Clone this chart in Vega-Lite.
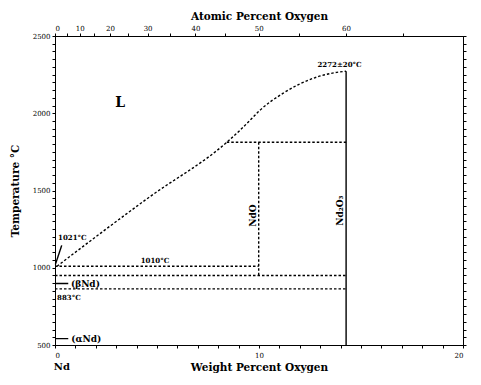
{
  "$schema": "https://vega.github.io/schema/vega-lite/v6.json",
  "width": 408,
  "height": 309,
  "autosize": {"type": "none"},
  "padding": {"left": 55, "top": 36, "right": 18, "bottom": 40},
  "background": "white",
  "config": {
    "view": {"stroke": "black", "strokeWidth": 1},
    "font": "DejaVu Serif",
    "axis": {
      "domainColor": "black", "tickColor": "black", "labelColor": "black", "titleColor": "black",
      "grid": false, "labelFont": "DejaVu Serif", "titleFont": "DejaVu Serif",
      "labelFontSize": 7, "tickSize": 3, "domainWidth": 1, "tickWidth": 1
    }
  },
  "datasets": {
    "lines": [
      {"seg": "liq", "style": "dash", "o": 1, "wt": 0.1, "T": 1010},
      {"seg": "liq", "style": "dash", "o": 2, "wt": 4.6, "T": 1455},
      {"seg": "liq", "style": "dash", "o": 3, "wt": 8.42, "T": 1812},
      {"seg": "liq", "style": "dash", "o": 4, "wt": 9.07, "T": 1890},
      {"seg": "liq", "style": "dash", "o": 5, "wt": 9.56, "T": 1955},
      {"seg": "liq", "style": "dash", "o": 6, "wt": 10.05, "T": 2020},
      {"seg": "liq", "style": "dash", "o": 7, "wt": 11.19, "T": 2130},
      {"seg": "liq", "style": "dash", "o": 8, "wt": 12.0, "T": 2190},
      {"seg": "liq", "style": "dash", "o": 9, "wt": 12.83, "T": 2234},
      {"seg": "liq", "style": "dash", "o": 10, "wt": 13.6, "T": 2260},
      {"seg": "liq", "style": "dash", "o": 11, "wt": 14.27, "T": 2272},
      {"seg": "h1812", "style": "dash", "o": 1, "wt": 8.42, "T": 1812},
      {"seg": "h1812", "style": "dash", "o": 2, "wt": 14.27, "T": 1812},
      {"seg": "vNdO", "style": "dash", "o": 1, "wt": 9.985, "T": 1812},
      {"seg": "vNdO", "style": "dash", "o": 2, "wt": 9.985, "T": 950},
      {"seg": "h1010", "style": "dash", "o": 1, "wt": 0, "T": 1010},
      {"seg": "h1010", "style": "dash", "o": 2, "wt": 9.985, "T": 1010},
      {"seg": "h950", "style": "dash", "o": 1, "wt": 0, "T": 950},
      {"seg": "h950", "style": "dash", "o": 2, "wt": 14.27, "T": 950},
      {"seg": "h863", "style": "dash", "o": 1, "wt": 0, "T": 863},
      {"seg": "h863", "style": "dash", "o": 2, "wt": 14.27, "T": 863},
      {"seg": "vNd2O3", "style": "solid", "o": 1, "wt": 14.27, "T": 2272},
      {"seg": "vNd2O3", "style": "solid", "o": 2, "wt": 14.27, "T": 500},
      {"seg": "beta", "style": "solid", "o": 1, "wt": 0, "T": 898},
      {"seg": "beta", "style": "solid", "o": 2, "wt": 0.65, "T": 898},
      {"seg": "alpha", "style": "solid", "o": 1, "wt": 0, "T": 541},
      {"seg": "alpha", "style": "solid", "o": 2, "wt": 0.65, "T": 541},
      {"seg": "arrow", "style": "solid", "o": 1, "wt": 0.02, "T": 1022},
      {"seg": "arrow", "style": "solid", "o": 2, "wt": 0.33, "T": 1145}
    ],
    "labels": [
      {"kind": "small", "label": "1021°C", "wt": 0.15, "T": 1190},
      {"kind": "smallc", "label": "1010°C", "wt": 4.9, "T": 1045},
      {"kind": "small", "label": "883°C", "wt": 0.1, "T": 807},
      {"kind": "smallc", "label": "2272±20°C", "wt": 13.95, "T": 2312},
      {"kind": "phase", "label": "(βNd)", "wt": 0.78, "T": 898},
      {"kind": "phase", "label": "(αNd)", "wt": 0.8, "T": 541},
      {"kind": "big", "label": "L", "wt": 3.19, "T": 2065},
      {"kind": "nd", "label": "Nd", "wt": 0.34, "T": 357},
      {"kind": "rot", "label": "NdO", "wt": 9.7, "T": 1338},
      {"kind": "rot", "label": "Nd₂O₃", "wt": 13.97, "T": 1370}
    ]
  },
  "resolve": {"axis": {"x": "independent", "y": "independent"}},
  "layer": [
    {
      "data": {"name": "lines"},
      "mark": {"type": "line", "color": "black", "strokeWidth": 1.4, "interpolate": "monotone"},
      "encoding": {
        "x": {
          "field": "wt", "type": "quantitative",
          "scale": {"domain": [0, 20], "nice": false, "zero": false},
          "axis": {
            "orient": "bottom",
            "values": [0,1,2,3,4,5,6,7,8,9,10,11,12,13,14,15,16,17,18,19,20],
            "labelExpr": "datum.value % 10 == 0 ? datum.label : ''",
            "format": "d",
            "title": "Weight Percent Oxygen",
            "titleFontSize": 10.5, "titleFontWeight": "bold", "titlePadding": 4,
            "labelPadding": 3
          }
        },
        "y": {
          "field": "T", "type": "quantitative",
          "scale": {"domain": [500, 2500], "nice": false, "zero": false},
          "axis": {
            "orient": "left",
            "values": [500,550,600,650,700,750,800,850,900,950,1000,1050,1100,1150,1200,1250,1300,1350,1400,1450,1500,1550,1600,1650,1700,1750,1800,1850,1900,1950,2000,2050,2100,2150,2200,2250,2300,2350,2400,2450,2500],
            "labelExpr": "datum.value % 500 == 0 ? datum.label : ''",
            "format": "d",
            "title": "Temperature °C",
            "titleFontSize": 10.5, "titleFontWeight": "bold", "titlePadding": 12,
            "labelPadding": 2
          }
        },
        "detail": {"field": "seg"},
        "order": {"field": "o", "type": "quantitative"},
        "strokeDash": {
          "field": "style", "type": "nominal",
          "scale": {"domain": ["dash", "solid"], "range": [[2.5, 2], [1, 0]]},
          "legend": null
        }
      }
    },
    {
      "data": {"name": "labels"},
      "transform": [{"filter": "datum.kind == 'small'"}],
      "mark": {"type": "text", "fontSize": 7, "align": "left", "baseline": "middle", "color": "black", "font": "DejaVu Serif", "fontWeight": "bold"},
      "encoding": {
        "x": {
          "field": "wt", "type": "quantitative",
          "axis": {
            "orient": "top",
            "values": [0, 0.5804, 1.2166, 1.9199, 2.6983, 3.5657, 4.5382, 5.6363, 6.8858, 8.3206, 9.985, 11.939, 14.265, 17.082],
            "labelExpr": "(round(100*144.24*datum.value/(144.24*datum.value+16*(100-datum.value))) % 10 == 0 && datum.value < 15) ? '' + round(100*144.24*datum.value/(144.24*datum.value+16*(100-datum.value))) : ''",
            "title": "Atomic Percent Oxygen",
            "titleFontSize": 10.5, "titleFontWeight": "bold", "titlePadding": 3,
            "labelPadding": 2
          }
        },
        "y": {
          "field": "T", "type": "quantitative",
          "axis": {
            "orient": "right",
            "values": [500,550,600,650,700,750,800,850,900,950,1000,1050,1100,1150,1200,1250,1300,1350,1400,1450,1500,1550,1600,1650,1700,1750,1800,1850,1900,1950,2000,2050,2100,2150,2200,2250,2300,2350,2400,2450,2500],
            "labels": false,
            "title": null
          }
        },
        "text": {"field": "label"}
      }
    },
    {
      "data": {"name": "labels"},
      "transform": [{"filter": "datum.kind == 'smallc'"}],
      "mark": {"type": "text", "fontSize": 7, "align": "center", "baseline": "middle", "color": "black", "font": "DejaVu Serif", "fontWeight": "bold"},
      "encoding": {
        "x": {"field": "wt", "type": "quantitative", "axis": null},
        "y": {"field": "T", "type": "quantitative", "axis": null},
        "text": {"field": "label"}
      }
    },
    {
      "data": {"name": "labels"},
      "transform": [{"filter": "datum.kind == 'phase'"}],
      "mark": {"type": "text", "fontSize": 9, "align": "left", "baseline": "middle", "color": "black", "font": "DejaVu Serif", "fontWeight": "bold"},
      "encoding": {
        "x": {"field": "wt", "type": "quantitative", "axis": null},
        "y": {"field": "T", "type": "quantitative", "axis": null},
        "text": {"field": "label"}
      }
    },
    {
      "data": {"name": "labels"},
      "transform": [{"filter": "datum.kind == 'big'"}],
      "mark": {"type": "text", "fontSize": 14, "align": "center", "baseline": "middle", "color": "black", "font": "DejaVu Serif", "fontWeight": "bold"},
      "encoding": {
        "x": {"field": "wt", "type": "quantitative", "axis": null},
        "y": {"field": "T", "type": "quantitative", "axis": null},
        "text": {"field": "label"}
      }
    },
    {
      "data": {"name": "labels"},
      "transform": [{"filter": "datum.kind == 'nd'"}],
      "mark": {"type": "text", "fontSize": 10, "align": "center", "baseline": "middle", "color": "black", "font": "DejaVu Serif", "fontWeight": "bold", "clip": false},
      "encoding": {
        "x": {"field": "wt", "type": "quantitative", "axis": null},
        "y": {"field": "T", "type": "quantitative", "axis": null},
        "text": {"field": "label"}
      }
    },
    {
      "data": {"name": "labels"},
      "transform": [{"filter": "datum.kind == 'rot'"}],
      "mark": {"type": "text", "fontSize": 9, "angle": 270, "align": "center", "baseline": "middle", "color": "black", "font": "DejaVu Serif", "fontWeight": "bold"},
      "encoding": {
        "x": {"field": "wt", "type": "quantitative", "axis": null},
        "y": {"field": "T", "type": "quantitative", "axis": null},
        "text": {"field": "label"}
      }
    }
  ]
}
